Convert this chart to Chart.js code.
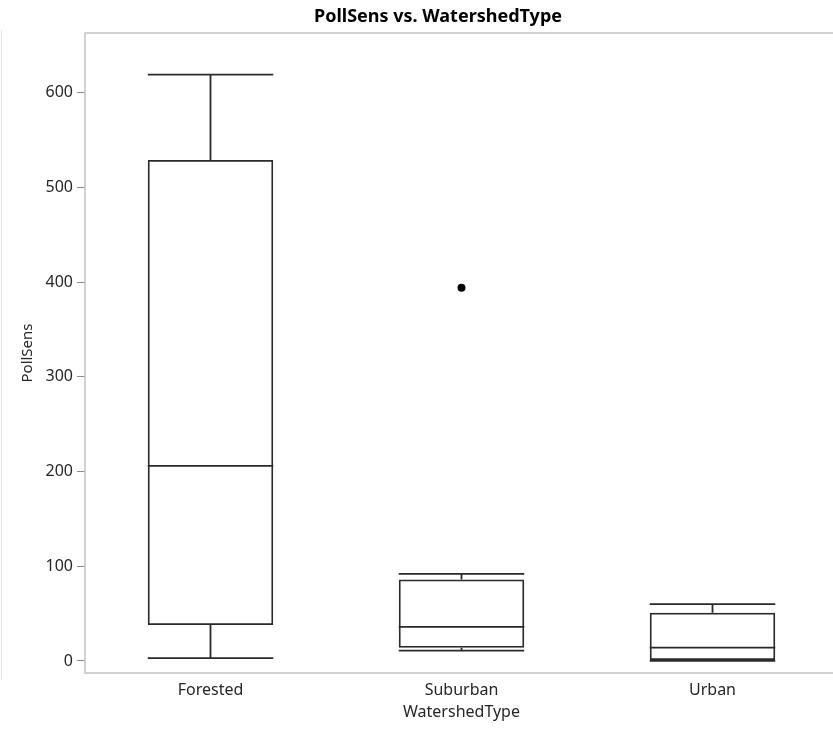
<!DOCTYPE html>
<html>
<head>
<meta charset="utf-8">
<title>PollSens vs. WatershedType</title>
<script src="https://cdn.jsdelivr.net/npm/chart.js@4.4.1/dist/chart.umd.min.js"></script>
<style>
  html, body { margin: 0; padding: 0; background: #ffffff; overflow: hidden; }
  #wrap { position: relative; width: 876px; height: 729px; }
  #edge { position: absolute; left: 1px; top: 30px; height: 650px; border-left: 1px solid #e6e6e6; }
  canvas { display: block; }
</style>
</head>
<body>
<div id="wrap">
  <div id="edge"></div>
  <canvas id="chart" width="876" height="729"></canvas>
</div>
<script>
// Watershed groups and their five-number summaries of PollSens
const categories = ['Forested', 'Suburban', 'Urban'];
const minVals    = [3, 11, 0];
const q1Vals     = [38, 14, 1];
const medianVals = [206, 36, 14];
const q3Vals     = [529, 86, 51];
const maxVals    = [619, 92, 60];
// Points beyond the whiskers (null where a group has none)
const outlierVals = [null, 394, null];
// Y axis tick values
const yTicks = [0, 100, 200, 300, 400, 500, 600];

const FONT = '"Segoe UI", "Noto Sans", "Open Sans", sans-serif';
const INK = '#2a2a2a';
const TEXT = '#262626';
const FRAME = '#c2c2c2';
const LINE_W = 1.8;

// Draws medians, whisker stems and caps from the scales
const whiskerPlugin = {
  id: 'whiskers',
  afterDatasetsDraw(chart) {
    const meta = chart.getDatasetMeta(0);
    const xs = chart.scales.x, ys = chart.scales.y;
    const ctx = chart.ctx;
    ctx.save();
    ctx.strokeStyle = INK;
    ctx.lineWidth = LINE_W;
    categories.forEach((c, i) => {
      const bar = meta.data[i];
      const cx = xs.getPixelForValue(i);
      const half = bar.width / 2;
      const yMed = ys.getPixelForValue(medianVals[i]);
      const yMax = ys.getPixelForValue(maxVals[i]);
      const yMin = ys.getPixelForValue(minVals[i]);
      const yQ1 = ys.getPixelForValue(q1Vals[i]);
      const yQ3 = ys.getPixelForValue(q3Vals[i]);
      ctx.beginPath();
      // median
      ctx.moveTo(cx - half, yMed); ctx.lineTo(cx + half, yMed);
      // upper whisker and cap
      ctx.moveTo(cx, yQ3); ctx.lineTo(cx, yMax);
      ctx.moveTo(cx - half, yMax); ctx.lineTo(cx + half, yMax);
      // lower whisker and cap
      ctx.moveTo(cx, yQ1); ctx.lineTo(cx, yMin);
      ctx.moveTo(cx - half, yMin); ctx.lineTo(cx + half, yMin);
      ctx.stroke();
    });
    ctx.restore();
  }
};

// Light frame around the plotting area
const framePlugin = {
  id: 'frame',
  beforeDatasetsDraw(chart) {
    const a = chart.chartArea, ctx = chart.ctx;
    ctx.save();
    ctx.strokeStyle = FRAME;
    ctx.lineWidth = 1.5;
    ctx.strokeRect(a.left, a.top, a.right - a.left, a.bottom - a.top);
    ctx.restore();
  }
};

new Chart(document.getElementById('chart'), {
  type: 'bar',
  data: {
    labels: categories,
    datasets: [
      {
        label: 'IQR',
        data: categories.map((c, i) => [q1Vals[i], q3Vals[i]]),
        backgroundColor: 'rgba(255,255,255,0)',
        borderColor: INK,
        borderWidth: LINE_W,
        borderSkipped: false,
        categoryPercentage: 1.0,
        barPercentage: 0.5,
        order: 2
      },
      {
        type: 'line',
        label: 'Outliers',
        data: outlierVals,
        showLine: false,
        pointRadius: 4,
        pointBackgroundColor: '#000000',
        pointBorderColor: '#000000',
        pointBorderWidth: 0,
        order: 1
      }
    ]
  },
  options: {
    responsive: false,
    animation: false,
    layout: { padding: 0 },
    plugins: {
      legend: { display: false },
      tooltip: { enabled: false },
      title: {
        display: true,
        text: 'PollSens vs. WatershedType',
        color: '#000000',
        font: { family: FONT, size: 18, weight: 'bold', lineHeight: 1.2 },
        padding: { top: 6, bottom: 5.4 }
      }
    },
    scales: {
      x: {
        type: 'category',
        grid: { display: false },
        border: { display: false },
        ticks: { color: TEXT, padding: 0, font: { family: FONT, size: 16 } },
        title: {
          display: true,
          text: 'WatershedType',
          color: TEXT,
          font: { family: FONT, size: 16 },
          padding: { top: 2, bottom: 6.5 }
        },
        afterFit(s) { s.height = 56; }
      },
      y: {
        type: 'linear',
        min: -12.7,
        max: 663,
        grid: {
          display: true,
          drawOnChartArea: false,
          drawTicks: true,
          tickLength: 8,
          color: '#8a8a8a',
          lineWidth: 1
        },
        border: { display: false },
        ticks: { color: TEXT, padding: 4, font: { family: FONT, size: 16 } },
        afterBuildTicks(s) { s.ticks = yTicks.map(v => ({ value: v })); },
        title: {
          display: true,
          text: 'PollSens',
          color: TEXT,
          font: { family: FONT, size: 15 },
          padding: { top: 19, bottom: 4 }
        },
        afterFit(s) { s.width = 85; }
      },
      yRight: {
        type: 'linear',
        position: 'right',
        display: true,
        grid: { display: false },
        border: { display: false },
        ticks: { display: false },
        afterFit(s) { s.width = 38; }
      }
    }
  },
  plugins: [framePlugin, whiskerPlugin]
});
</script>
</body>
</html>
